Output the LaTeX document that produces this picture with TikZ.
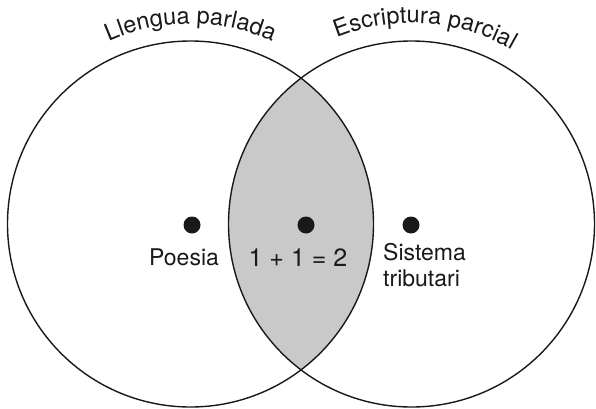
\documentclass[tikz,border=0pt]{standalone}
\usepackage{fontspec}
\setmainfont{TeX Gyre Heros}
\usetikzlibrary{decorations.text}
\definecolor{lensgray}{gray}{0.79}
\definecolor{ink}{gray}{0.1}
\begin{document}
\begin{tikzpicture}[x=1pt,y=1pt,
  ring/.style={draw=ink, line width=1.4pt},
  dot/.style={circle, fill=ink, inner sep=0pt, minimum size=17pt},
  lbl/.style={font=\fontsize{23}{26}\selectfont, text=ink, inner sep=0pt},
  arclbl/.style={decorate, decoration={text along path, text align=center, text color=ink, text={|\fontsize{23.5}{24}\selectfont|#1}}}]
\useasboundingbox (0,0) rectangle (596,408);
\coordinate (L) at (190.5,184);
\coordinate (R) at (411.5,184);
% lens
\begin{scope}
  \clip (L) circle[radius=183];
  \fill[lensgray] (R) circle[radius=183];
\end{scope}
\draw[ring] (L) circle[radius=183];
\draw[ring] (R) circle[radius=183];
% dots
\node[dot] (d1) at (192,183) {};
\node[dot] (d2) at (306,183) {};
\node[dot] (d3) at (411,183) {};
% labels
\node[lbl, anchor=base] (poesia) at (184,143) {Poesia};
\node[lbl, anchor=base, font=\fontsize{25}{26}\selectfont] (eq) at (298,142) {1 + 1 = 2};
\node[lbl, anchor=base west] (sis1) at (383,148) {Sistema};
\node[lbl, anchor=base west] (sis2) at (383,122) {tributari};
% curved titles
\path[arclbl={Llengua parlada}] ([shift={(135:200)}]L) arc[start angle=135, end angle=45, radius=200];
\path[arclbl={Escriptura parcial}] ([shift={(131:201)}]R) arc[start angle=131, end angle=41, radius=201];
\end{tikzpicture}
\end{document}
